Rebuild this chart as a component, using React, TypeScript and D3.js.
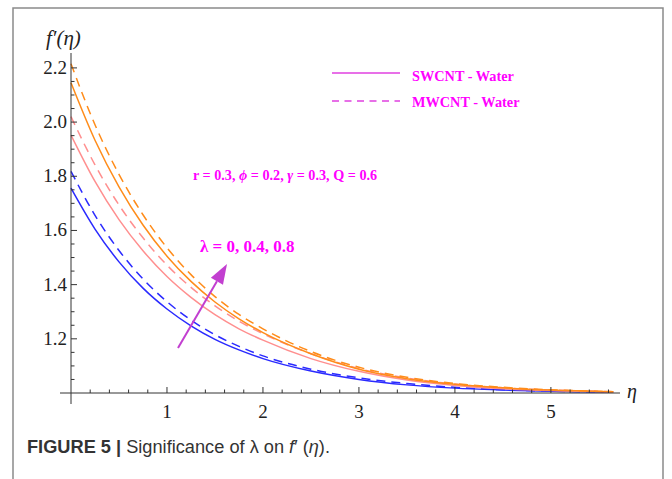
import React from 'react';
import * as d3 from 'd3';

// eta grid the curves were read at
const eta = [0, 0.25, 0.5, 0.75, 1, 1.25, 1.5, 1.75, 2, 2.5, 3, 3.5, 4, 4.5, 5, 5.65];

// f'(eta), lambda = 0, 0.4, 0.8
const swcnt0 = [1.756, 1.605, 1.484, 1.387, 1.31, 1.248, 1.198, 1.159, 1.127, 1.081, 1.05, 1.03, 1.018, 1.011, 1.006, 1.003];
const mwcnt0 = [1.818, 1.656, 1.526, 1.421, 1.337, 1.269, 1.215, 1.172, 1.137, 1.088, 1.056, 1.035, 1.021, 1.012, 1.007, 1.003];
const swcnt04 = [1.952, 1.781, 1.64, 1.525, 1.43, 1.353, 1.289, 1.237, 1.195, 1.127, 1.08, 1.048, 1.028, 1.016, 1.009, 1.004];
const mwcnt04 = [2.02, 1.842, 1.694, 1.573, 1.472, 1.39, 1.322, 1.265, 1.219, 1.145, 1.09, 1.055, 1.033, 1.019, 1.011, 1.005];
const swcnt08 = [2.145, 1.933, 1.761, 1.62, 1.505, 1.412, 1.336, 1.274, 1.223, 1.145, 1.088, 1.053, 1.032, 1.019, 1.011, 1.005];
const mwcnt08 = [2.215, 1.99, 1.807, 1.658, 1.536, 1.437, 1.356, 1.29, 1.237, 1.153, 1.095, 1.058, 1.035, 1.021, 1.012, 1.005];

const xTicks = [1, 2, 3, 4, 5];
const yTicks = [1.2, 1.4, 1.6, 1.8, 2.0, 2.2];

const series = [
  { values: swcnt0, color: '#2a2aff', dashed: false },
  { values: mwcnt0, color: '#2a2aff', dashed: true },
  { values: swcnt04, color: '#ff8f8f', dashed: false },
  { values: mwcnt04, color: '#ff8f8f', dashed: true },
  { values: swcnt08, color: '#ff8c1a', dashed: false },
  { values: mwcnt08, color: '#ff8c1a', dashed: true },
];

const serif = '"Liberation Serif", "DejaVu Serif", serif';
const magenta = '#ff00ff';

const App = () => {
  const x = d3.scaleLinear().domain([0, 5.72]).range([71, 620]);
  const y = d3.scaleLinear().domain([1, 2.255]).range([393, 53]);

  const line = d3.line<number>()
    .x((d, i) => x(eta[i]))
    .y((d) => y(d))
    .curve(d3.curveMonotoneX);

  const xMinor = d3.range(0.2, 5.7, 0.2).filter((t) => Math.abs(t - Math.round(t)) > 0.01);
  const yMinor = d3.range(1.05, 2.25, 0.05).filter((t) => Math.abs(t * 5 - Math.round(t * 5)) > 0.01);

  // arrow from low lambda towards high lambda
  const ax0 = 178, ay0 = 348, ax1 = 227, ay1 = 264;
  const ang = Math.atan2(ay1 - ay0, ax1 - ax0);
  const hl = 20, hw = 7;
  const bx = ax1 - hl * Math.cos(ang), by = ay1 - hl * Math.sin(ang);
  const head = [
    [ax1, ay1],
    [bx + hw * Math.sin(ang), by - hw * Math.cos(ang)],
    [bx - hw * Math.sin(ang), by + hw * Math.cos(ang)],
  ];

  return (
    <svg width={672} height={479} style={{ position: 'absolute', left: 0, top: 0, background: '#fff' }}>
      <rect x={13} y={8} width={650} height={500} fill="none" stroke="#8a8a8a" strokeWidth={1.5} />

      {/* curves */}
      {series.map((s, i) => (
        <path key={i} d={line(s.values) || ''} fill="none" stroke={s.color}
          strokeWidth={1.5} strokeDasharray={s.dashed ? '9,6' : undefined} />
      ))}

      {/* axes */}
      <line x1={60} x2={620} y1={393} y2={393} stroke="#333" strokeWidth={1} />
      <line x1={71} x2={71} y1={53} y2={404} stroke="#333" strokeWidth={1} />
      {xTicks.map((t) => (
        <g key={'x' + t}>
          <line x1={x(t)} x2={x(t)} y1={393} y2={387} stroke="#333" />
          <text x={x(t)} y={418} textAnchor="middle" fontFamily={serif} fontSize={19} fill="#222">{t}</text>
        </g>
      ))}
      {xMinor.map((t) => (
        <line key={'xm' + t} x1={x(t)} x2={x(t)} y1={393} y2={389.5} stroke="#333" />
      ))}
      {yTicks.map((t) => (
        <g key={'y' + t}>
          <line x1={71} x2={77} y1={y(t)} y2={y(t)} stroke="#333" />
          <text x={67} y={y(t) + 6} textAnchor="end" fontFamily={serif} fontSize={19} fill="#222">{t.toFixed(1)}</text>
        </g>
      ))}
      {yMinor.map((t) => (
        <line key={'ym' + t} x1={71} x2={74.5} y1={y(t)} y2={y(t)} stroke="#333" />
      ))}
      <text x={46} y={45} fontFamily={serif} fontSize={21} fontStyle="italic" fill="#222">f{'\u2032'}(η)</text>
      <text x={627} y={398} fontFamily={serif} fontSize={20} fontStyle="italic" fill="#222">η</text>

      {/* legend */}
      <line x1={332} x2={400} y1={73} y2={73} stroke="#e040e0" strokeWidth={1.5} />
      <text x={412} y={81} fontFamily={serif} fontSize={14.3} fontWeight="bold" fill={magenta}>SWCNT - Water</text>
      <line x1={332} x2={400} y1={101} y2={101} stroke="#e040e0" strokeWidth={1.5} strokeDasharray="7,5.5" />
      <text x={412} y={107} fontFamily={serif} fontSize={14.3} fontWeight="bold" fill={magenta}>MWCNT - Water</text>

      {/* annotations */}
      <text x={193} y={180} fontFamily={serif} fontSize={14.2} fontWeight="bold" fill={magenta}>
        r = 0.3, <tspan fontStyle="italic">ϕ</tspan> = 0.2, <tspan fontStyle="italic">γ</tspan> = 0.3, Q = 0.6
      </text>
      <text x={200} y={252} fontFamily={serif} fontSize={17} fontWeight="bold" fill={magenta}>λ = 0, 0.4, 0.8</text>
      <line x1={ax0} y1={ay0} x2={bx} y2={by} stroke="#c23fd0" strokeWidth={2} />
      <polygon points={head.map((p) => p.join(',')).join(' ')} fill="#c23fd0" />

      {/* caption */}
      <text x={27} y={453} fontFamily='"Liberation Sans", Arial, sans-serif' fontSize={17.5} fill="#333" textLength={303} lengthAdjust="spacingAndGlyphs">
        <tspan fontWeight="bold">FIGURE 5 | </tspan>Significance of λ on <tspan fontStyle="italic">f</tspan>{'\u2032'} (<tspan fontStyle="italic">η</tspan>).
      </text>
    </svg>
  );
};

export default App;
